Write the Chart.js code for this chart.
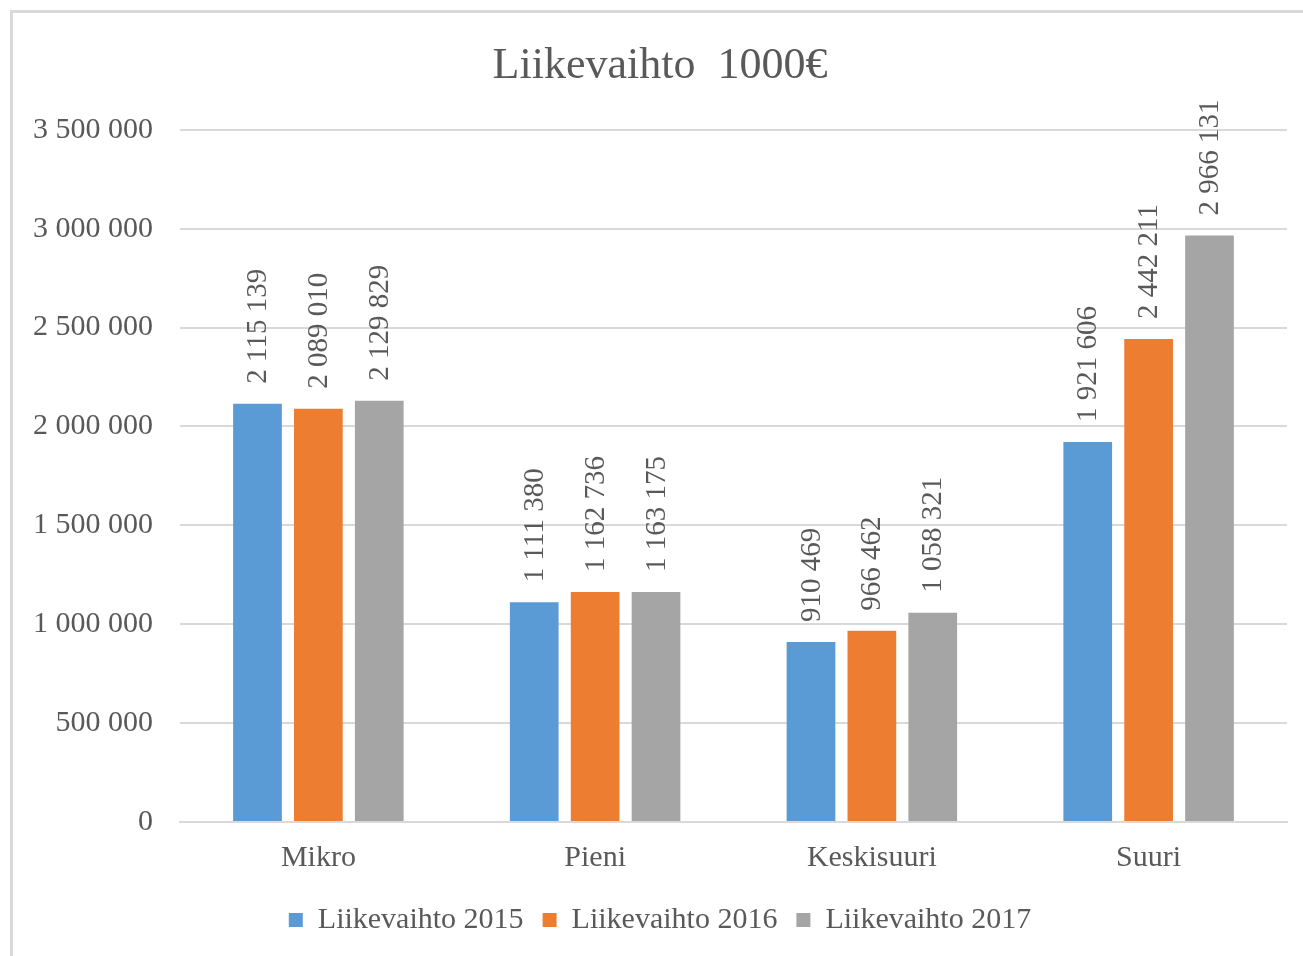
<!DOCTYPE html>
<html>
<head>
<meta charset="utf-8">
<script src="https://cdn.jsdelivr.net/npm/chart.js@4"></script>
<style>
  html, body { margin: 0; padding: 0; background: #fff; }
  body { width: 1303px; height: 956px; position: relative; overflow: hidden; }
  #frame { position: absolute; left: 10px; top: 10px; width: 1300px; height: 950px;
           border-top: 3px solid #d9d9d9; border-left: 3px solid #d9d9d9; }
  #wrap { position: absolute; left: 13px; top: 13px; width: 1290px; height: 943px; }
</style>
</head>
<body>
<div id="frame"></div>
<div id="wrap"><canvas id="chart"></canvas></div>
<script>
const categories = ["Mikro", "Pieni", "Keskisuuri", "Suuri"];
const series_names = ["Liikevaihto 2015", "Liikevaihto 2016", "Liikevaihto 2017"];
const values_2015 = [2115139, 1111380, 910469, 1921606];
const values_2016 = [2089010, 1162736, 966462, 2442211];
const values_2017 = [2129829, 1163175, 1058321, 2966131];
const y_max = 3500000;
const y_step = 500000;

const colors = ["#5b9bd5", "#ed7d31", "#a5a5a5"];
const text_color = "#595959";
const font_family = "'Liberation Serif', 'Times New Roman', serif";

function fmt(n) {
    return String(n).replace(/\B(?=(\d{3})+(?!\d))/g, " ");
}

// rotated value labels above the bars
const bar_labels = {
    id: "bar_labels",
    afterDatasetsDraw(chart) {
        const ctx = chart.ctx;
        ctx.save();
        ctx.fillStyle = text_color;
        ctx.font = "29px " + font_family;
        ctx.textAlign = "left";
        ctx.textBaseline = "middle";
        chart.data.datasets.forEach((ds, i) => {
            const meta = chart.getDatasetMeta(i);
            meta.data.forEach((bar, j) => {
                ctx.save();
                ctx.translate(bar.x, bar.y - 20);
                ctx.rotate(-Math.PI / 2);
                ctx.fillText(fmt(ds.data[j]), 0, 1);
                ctx.restore();
            });
        });
        ctx.restore();
    }
};

const all_values = [values_2015, values_2016, values_2017];

new Chart(document.getElementById("chart"), {
    type: "bar",
    data: {
        labels: categories,
        datasets: series_names.map((name, i) => ({
            label: name,
            data: all_values[i],
            backgroundColor: colors[i],
            borderWidth: 0,
            categoryPercentage: 0.66,
            barPercentage: 0.8
        }))
    },
    options: {
        responsive: true,
        maintainAspectRatio: false,
        animation: false,
        layout: { padding: { left: 20, right: 16, top: 0, bottom: 11 } },
        plugins: {
            title: {
                display: true,
                text: "Liikevaihto  1000€",
                color: text_color,
                font: { family: font_family, size: 44, weight: "normal" },
                padding: { top: 27, bottom: 37 }
            },
            legend: {
                position: "bottom",
                labels: {
                    color: text_color,
                    font: { family: font_family, size: 30 },
                    boxWidth: 14,
                    boxHeight: 14,
                    padding: 19
                }
            },
            tooltip: { enabled: false }
        },
        scales: {
            x: {
                grid: { display: false },
                border: { display: true, color: "#d9d9d9", width: 2 },
                ticks: {
                    color: text_color,
                    font: { family: font_family, size: 30, lineHeight: 1 },
                    padding: 13
                }
            },
            y: {
                min: 0,
                max: y_max,
                afterFit: scale => { scale.width = 147; },
                grid: { color: "#d9d9d9", lineWidth: 2, drawTicks: false },
                border: { display: false },
                ticks: {
                    stepSize: y_step,
                    color: text_color,
                    font: { family: font_family, size: 30 },
                    padding: 27,
                    callback: v => fmt(v)
                }
            }
        }
    },
    plugins: [bar_labels]
});
</script>
</body>
</html>
